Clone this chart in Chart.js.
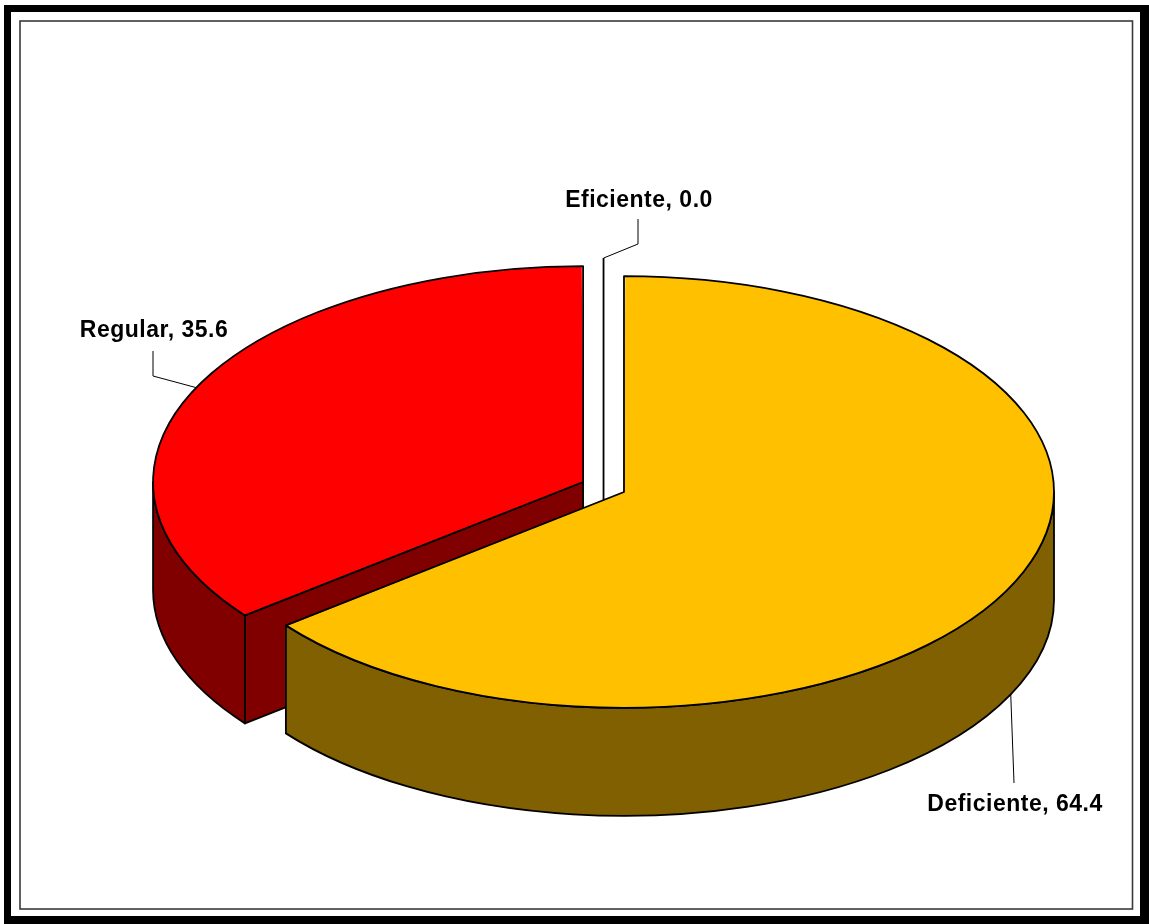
<!DOCTYPE html>
<html lang="es">
<head>
<meta charset="utf-8">
<title>Eficiente / Deficiente / Regular</title>
<script src="https://cdn.jsdelivr.net/npm/chart.js@4/dist/chart.umd.min.js"></script>
<style>
  html, body { margin: 0; padding: 0; background: #fff; }
  #wrap { width: 1149px; height: 924px; position: relative; }
</style>
</head>
<body>
<div id="wrap"><canvas id="pie"></canvas></div>
<script>
// datos del grafico
const categorias = ['Eficiente', 'Deficiente', 'Regular'];
const valores = [0.0, 64.4, 35.6];

// estilo
const coloresCara = ['#FFFFFF', '#FFC000', '#FF0000'];
const coloresLado = ['#FFFFFF', '#806000', '#800000'];
const separacion = [81, 32, 150];   // offset de cada porcion (explosion)
const APLASTE = 0.502;              // relacion vertical del disco
const GROSOR = 108;                 // alto del canto en px

// donde van los rotulos (codo de la guia, fin de la guia, texto)
const rotulos = [
  { codo: [638, 244], fin: [638, 219], texto: [639, 207] },
  { codo: null,       fin: [1014, 783], texto: [1015, 811] },
  { codo: [153, 376], fin: [153, 351], texto: [154, 337] }
];

// geometria real de cada arco, igual que la dibuja ArcElement
function geom(el) {
  const p = el.getProps(['x', 'y', 'startAngle', 'endAngle', 'outerRadius', 'circumference'], true);
  const off = (el.options.offset || 0) / 4;
  const mid = (p.startAngle + p.endAngle) / 2;
  const fix = 1 - Math.sin(Math.min(Math.PI, p.circumference || 0));
  return {
    cy: p.y,
    x: p.x + Math.cos(mid) * off,
    y: p.y + Math.sin(mid) * off,
    r: p.outerRadius + off * fix,
    s: p.startAngle, e: p.endAngle, mid, circ: p.circumference
  };
}

function aplastar(ctx, cy) {
  ctx.translate(0, cy);
  ctx.scale(1, APLASTE);
  ctx.translate(0, -cy);
}

// punto en pantalla sobre el borde del disco
function punto(g, ang, baja) {
  return [g.x + g.r * Math.cos(ang), g.cy + (g.y + g.r * Math.sin(ang) - g.cy) * APLASTE + (baja || 0)];
}

// rellena y contornea una figura armada en el espacio aplastado
function figura(ctx, cy, armar, relleno) {
  const base = ctx.getTransform();
  ctx.save();
  aplastar(ctx, cy);
  ctx.beginPath();
  armar(ctx);
  ctx.setTransform(base);
  if (relleno) { ctx.fillStyle = relleno; ctx.fill(); }
  ctx.strokeStyle = '#000';
  ctx.lineWidth = 1.8;
  ctx.lineJoin = 'round';
  ctx.stroke();
  ctx.restore();
}

const pie3d = {
  id: 'pie3d',
  beforeDraw(chart) {
    const ctx = chart.ctx;
    ctx.save();
    ctx.fillStyle = '#fff';
    ctx.fillRect(0, 0, chart.width, chart.height);
    ctx.fillStyle = '#000';
    ctx.fillRect(4, 5, 7, 919);
    ctx.fillRect(4, 5, 1145, 7);
    ctx.fillRect(1140, 5, 9, 919);
    ctx.fillRect(4, 916, 1145, 8);
    ctx.strokeStyle = '#3a3a3a';
    ctx.lineWidth = 1.6;
    ctx.strokeRect(20, 21, 1112.5, 888);
    ctx.restore();
  },
  beforeDatasetsDraw(chart) {
    const ctx = chart.ctx;
    const meta = chart.getDatasetMeta(0);
    const gs = meta.data.map(geom);
    const dz = GROSOR / APLASTE;
    const cy = gs[0].cy;

    // cantos, del fondo hacia adelante
    gs.map((g, i) => ({ g, i }))
      .filter(o => o.g.circ > 0)
      .sort((a, b) => a.g.y - b.g.y)
      .forEach(({ g, i }) => {
        const lado = coloresLado[i];
        const a = Math.max(g.s, 0), b = Math.min(g.e, Math.PI);
        const radial = ang => p => {
          p.moveTo(g.x, g.y);
          p.lineTo(g.x + g.r * Math.cos(ang), g.y + g.r * Math.sin(ang));
          p.lineTo(g.x + g.r * Math.cos(ang), g.y + g.r * Math.sin(ang) + dz);
          p.lineTo(g.x, g.y + dz);
          p.closePath();
        };
        if (Math.cos(g.s) < -1e-6) figura(ctx, cy, radial(g.s), lado);
        if (Math.cos(g.e) > 1e-6) figura(ctx, cy, radial(g.e), lado);
        if (b > a) {
          figura(ctx, cy, p => {
            p.arc(g.x, g.y, g.r, a, b);
            p.arc(g.x, g.y + dz, g.r, b, a, true);
            p.closePath();
          }, lado);
        }
      });

    // porcion en cero: solo una linea en el hueco
    const n = gs.length;
    gs.forEach((g, i) => {
      if (g.circ > 0) return;
      const xm = (gs[(i - 1 + n) % n].x + gs[(i + 1) % n].x) / 2;
      const top = punto(g, g.mid)[1];
      ctx.save();
      ctx.strokeStyle = '#000';
      ctx.lineWidth = 1.8;
      ctx.beginPath();
      ctx.moveTo(xm, top);
      ctx.lineTo(xm, cy + 30);
      ctx.stroke();
      ctx.restore();
    });

    // las caras de arriba las dibuja Chart.js, aplastadas
    ctx.save();
    aplastar(ctx, cy);
  },
  afterDatasetsDraw(chart) {
    const ctx = chart.ctx;
    ctx.restore();
    const gs = chart.getDatasetMeta(0).data.map(geom);
    gs.forEach(g => {
      if (g.circ <= 0) return;
      figura(ctx, g.cy, p => {
        p.moveTo(g.x, g.y);
        p.arc(g.x, g.y, g.r, g.s, g.e);
        p.closePath();
      }, null);
    });
  },
  afterDraw(chart) {
    const ctx = chart.ctx;
    const gs = chart.getDatasetMeta(0).data.map(geom);
    const n = gs.length;
    ctx.save();
    ctx.font = 'bold 23px "Liberation Sans", Arial, sans-serif';
    ctx.letterSpacing = '0.5px';
    ctx.textAlign = 'center';
    ctx.textBaseline = 'alphabetic';
    gs.forEach((g, i) => {
      let ancla;
      if (g.circ <= 0) {
        const xm = (gs[(i - 1 + n) % n].x + gs[(i + 1) % n].x) / 2;
        ancla = [xm, punto(g, g.mid)[1]];
      } else if (Math.sin(g.mid) > 0) {
        ancla = punto(g, g.mid, GROSOR);
      } else {
        ancla = punto(g, g.mid);
      }
      const r = rotulos[i];
      ctx.strokeStyle = '#000';
      ctx.lineWidth = 1;
      ctx.beginPath();
      ctx.moveTo(ancla[0], ancla[1]);
      if (r.codo) ctx.lineTo(r.codo[0], r.codo[1]);
      ctx.lineTo(r.fin[0], r.fin[1]);
      ctx.stroke();
      ctx.fillStyle = '#000';
      ctx.fillText(categorias[i] + ', ' + valores[i].toFixed(1), r.texto[0], r.texto[1]);
    });
    ctx.restore();
  }
};

new Chart(document.getElementById('pie'), {
  type: 'pie',
  data: {
    labels: categorias,
    datasets: [{
      data: valores,
      backgroundColor: coloresCara,
      borderWidth: 0,
      offset: separacion,
      radius: 422,
      clip: false
    }]
  },
  options: {
    responsive: true,
    maintainAspectRatio: false,
    animation: false,
    events: [],
    layout: { padding: { left: 84.6, right: 0, top: 56.5, bottom: 0 } },
    plugins: {
      legend: { display: false },
      tooltip: { enabled: false }
    }
  },
  plugins: [pie3d]
});
</script>
</body>
</html>
